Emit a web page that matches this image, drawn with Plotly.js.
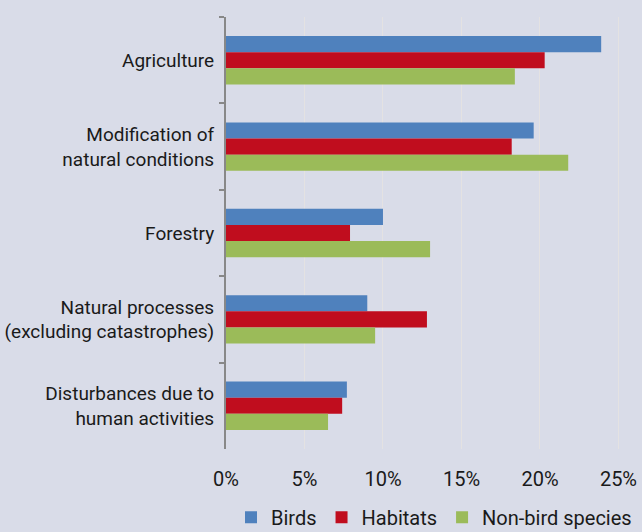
<!DOCTYPE html>
<html>
<head>
<meta charset="utf-8">
<script src="https://cdn.plot.ly/plotly-3.0.1.min.js"></script>
<style>html,body{margin:0;padding:0;background:#d9dce8;}#chart{width:642px;height:532px;}</style>
</head>
<body>
<div id="chart"></div>
<script>
var categories = ["Agriculture", "Modification of<br>natural conditions", "Forestry", "Natural processes<br>(excluding catastrophes)", "Disturbances due to<br>human activities"];
var seriesNames = ["Birds", "Habitats", "Non-bird species"];
var birds = [23.9, 19.6, 10.0, 9.0, 7.7];
var habitats = [20.3, 18.2, 7.9, 12.8, 7.4];
var nonBird = [18.4, 21.8, 13.0, 9.5, 6.5];
var xTickVals = [0, 5, 10, 15, 20, 25];
var xTickText = ["0%", "5%", "10%", "15%", "20%", "25%"];
var colors = ["#4f81bd", "#c00d1e", "#9bbb59"];

var allValues = [birds, habitats, nonBird];
var traces = allValues.map(function (vals, i) {
  return {
    type: "bar",
    orientation: "h",
    name: seriesNames[i],
    x: vals,
    y: categories,
    marker: { color: colors[i], line: { width: 0 } },
    hoverinfo: "x+name"
  };
});

var layout = {
  width: 642,
  height: 532,
  paper_bgcolor: "#d9dce8",
  plot_bgcolor: "#d9dce8",
  font: { family: "Roboto, 'DejaVu Sans Condensed', sans-serif", size: 19, color: "#1a1a1a" },
  margin: { l: 226, r: 0, t: 17, b: 83, autoexpand: false },
  barmode: "group",
  bargap: 0.44,
  bargroupgap: 0,
  showlegend: true,
  legend: {
    orientation: "h",
    x: 0.5,
    xanchor: "center",
    y: -0.158,
    yanchor: "middle",
    font: { size: 20 },
    traceorder: "normal"
  },
  xaxis: {
    range: [0, 26.5],
    tickvals: xTickVals,
    ticktext: xTickText,
    showgrid: true,
    gridcolor: "#e4e2e2",
    gridwidth: 1,
    zeroline: false,
    showline: false,
    ticks: "",
    ticklabelstandoff: 16,
    tickfont: { size: 20 },
    fixedrange: true
  },
  yaxis: {
    type: "category",
    autorange: "reversed",
    showline: true,
    linecolor: "#888888",
    linewidth: 2,
    ticks: "outside",
    tickson: "boundaries",
    ticklen: 5,
    tickwidth: 2,
    tickcolor: "#888888",
    showgrid: false,
    ticklabelstandoff: 6,
    fixedrange: true
  }
};

Plotly.newPlot("chart", traces, layout, { displayModeBar: false, staticPlot: true });
</script>
</body>
</html>
